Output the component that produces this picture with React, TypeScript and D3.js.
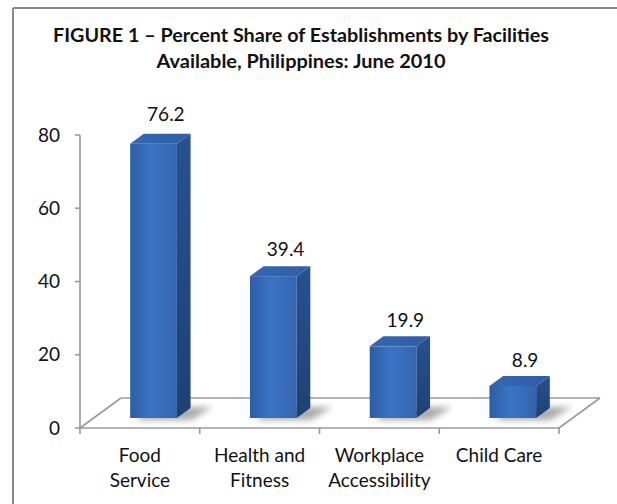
import React from "react";
import * as d3 from "d3";

const categories = ["Food Service", "Health and Fitness", "Workplace Accessibility", "Child Care"];
const categoryLines = [["Food", "Service"], ["Health and", "Fitness"], ["Workplace", "Accessibility"], ["Child Care"]];
const values = [76.2, 39.4, 19.9, 8.9];
const yTicks = [0, 20, 40, 60, 80];
const titleLines = ["FIGURE 1 \u2013 Percent Share of Establishments by Facilities", "Available, Philippines: June 2010"];
const titleWidths = [496, 289];

const W = 617;
const H = 504;
const FONT = "Lato, 'Open Sans', 'Liberation Sans', sans-serif";

export default function App() {
  const x = d3.scaleBand<string>().domain(categories).range([80, 559]).padding(0);
  const y = d3.scaleLinear().domain([0, 80]).range([428, 135]);
  const floorDx = 41;
  const floorDy = -30;
  const offX = floorDx / 3;
  const offY = floorDy / 3;
  const yb = d3.scaleLinear().domain([0, 80]).range([428 + offY, 428 + offY - 80 * 3.6]);
  const bw = x.bandwidth();
  const barW = bw * 0.39;
  const x0 = 80;
  const x1 = 559;
  const y0 = y(0);

  return (
    <svg width={W} height={H} style={{ position: "absolute", left: 0, top: 0, background: "#fff" }}>
      <defs>
        <linearGradient id="front" x1="0" x2="1" y1="0" y2="0">
          <stop offset="0" stopColor="#2d5da6" />
          <stop offset="0.45" stopColor="#3b74c4" />
          <stop offset="1" stopColor="#3464ae" />
        </linearGradient>
        <linearGradient id="side" x1="0" x2="0" y1="0" y2="1">
          <stop offset="0" stopColor="#28518f" />
          <stop offset="1" stopColor="#1f4174" />
        </linearGradient>
        <linearGradient id="top" x1="0" x2="1" y1="0" y2="0">
          <stop offset="0" stopColor="#3567b3" />
          <stop offset="1" stopColor="#2f5ea6" />
        </linearGradient>
        <filter id="blur" x="-50%" y="-50%" width="200%" height="200%">
          <feGaussianBlur stdDeviation="3" />
        </filter>
      </defs>
      <rect x={0} y={0} width={W} height={H} fill="#fff" />
      {/* frame */}
      <line x1={13} y1={8} x2={W + 5} y2={8} stroke="#8a8a8a" strokeWidth={2} />
      <line x1={13} y1={8} x2={13} y2={H + 5} stroke="#8a8a8a" strokeWidth={2} />

      {/* title */}
      {titleLines.map((t, i) => (
        <text
          key={i}
          x={301}
          y={42 + i * 26}
          textAnchor="middle"
          fontFamily={FONT}
          fontWeight="bold"
          fontSize={19}
          textLength={titleWidths[i]}
          lengthAdjust="spacingAndGlyphs"
          fill="#111"
        >
          {t}
        </text>
      ))}

      {/* floor */}
      <g stroke="#9a9a9a" strokeWidth={1.6} fill="none">
        <line x1={x0} y1={y0} x2={x1} y2={y0} />
        <line x1={x0 + floorDx} y1={y0 + floorDy} x2={x1 + floorDx} y2={y0 + floorDy} />
        <line x1={x0} y1={y0} x2={x0 + floorDx} y2={y0 + floorDy} />
        <line x1={x1} y1={y0} x2={x1 + floorDx} y2={y0 + floorDy} />
        <line x1={x0} y1={y(80)} x2={x0} y2={y0} />
        {yTicks.map((t) => (
          <line key={t} x1={x0 - 5} x2={x0} y1={y(t)} y2={y(t)} />
        ))}
        {[...categories.map((c) => x(c)!), x1].map((px, i) => (
          <line key={i} x1={px} x2={px} y1={y0} y2={y0 + 6} />
        ))}
      </g>

      {/* y tick labels */}
      {yTicks.map((t) => (
        <text key={t} x={60} y={y(t) + 6.5} textAnchor="end" fontFamily={FONT} fontSize={19} fill="#111">
          {t}
        </text>
      ))}

      {/* bars */}
      {categories.map((c, i) => {
        const v = values[i];
        const xl = x(c)! + bw / 2 + offX - barW / 2;
        const xr = xl + barW;
        const base = yb(0);
        const top = yb(v);
        return (
          <g key={c}>
            <polygon
              points={`${xl + 6},${base + 2} ${xr + 14},${base + 2} ${xr + offX + 22},${base + offY - 1} ${xl + offX + 6},${base + offY - 1}`}
              fill="#666"
              opacity={0.55}
              filter="url(#blur)"
            />
            <rect x={xl} y={top} width={barW} height={base - top} fill="url(#front)" />
            <polygon
              points={`${xr},${top} ${xr + offX},${top + offY} ${xr + offX},${base + offY} ${xr},${base}`}
              fill="url(#side)"
            />
            <polygon
              points={`${xl},${top} ${xl + offX},${top + offY} ${xr + offX},${top + offY} ${xr},${top}`}
              fill="url(#top)"
            />
            <text x={x(c)! + bw / 2 + 26} y={y(v) - 28} textAnchor="middle" fontFamily={FONT} fontSize={19} fill="#111">
              {v.toFixed(1)}
            </text>
          </g>
        );
      })}

      {/* category labels */}
      {categories.map((c, i) => (
        <text key={c} textAnchor="middle" fontFamily={FONT} fontSize={19} fill="#111">
          {categoryLines[i].map((l, j) => (
            <tspan key={j} x={x(c)! + bw / 2} y={462 + j * 25}>
              {l}
            </tspan>
          ))}
        </text>
      ))}
    </svg>
  );
}
